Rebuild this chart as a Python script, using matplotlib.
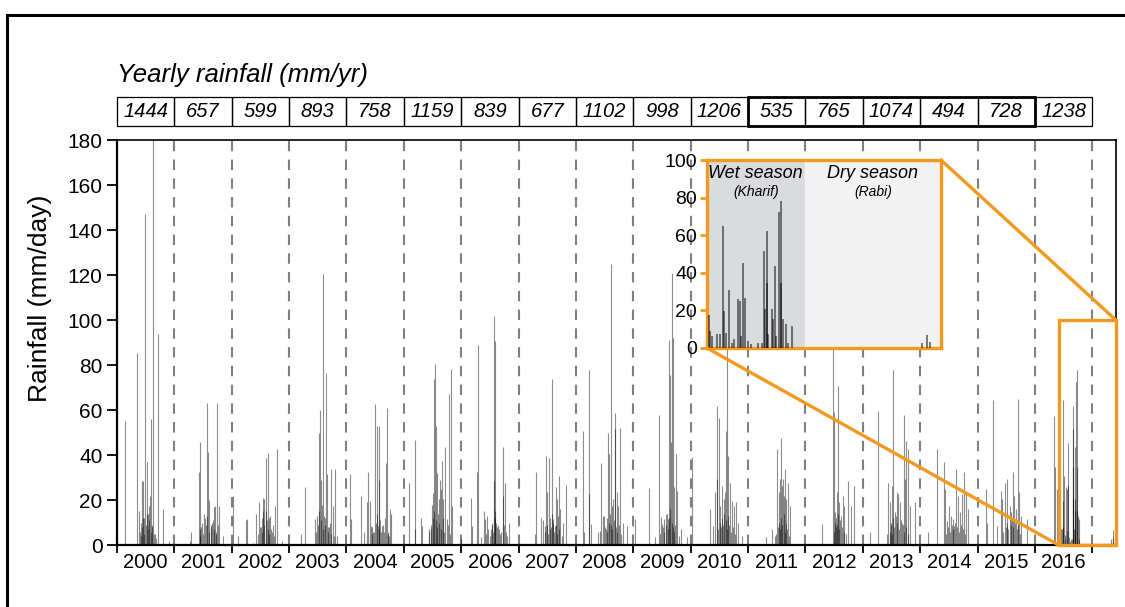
import numpy as np
import matplotlib
matplotlib.use("Agg")
import matplotlib.pyplot as plt
from matplotlib.patches import Rectangle, ConnectionPatch
from matplotlib.transforms import blended_transform_factory

plt.rcParams['font.family'] = ['Liberation Sans', 'DejaVu Sans']

# yearly totals (mm/yr)
years = list(range(2000, 2017))
yearly_totals = [1444, 657, 599, 893, 758, 1159, 839, 677, 1102, 998, 1206,
                 535, 765, 1074, 494, 728, 1238]
bold_years = [2011, 2012, 2013, 2014, 2015]

# daily rainfall events: day of year and mm/day, one list per year
spike_doy = [
    [53, 125, 142, 159, 168, 180, 193, 206, 220, 231, 244, 259, 291, 333, 150, 175, 200, 212, 226],
    [100, 106, 155, 161, 189, 206, 214, 223, 250, 261, 274, 282, 307, 170, 195, 230, 240, 268],
    [6, 40, 91, 98, 138, 155, 172, 197, 208, 220, 231, 244, 261, 278, 289, 318, 185, 215, 236, 252],
    [76, 104, 165, 180, 189, 197, 204, 218, 235, 240, 259, 269, 278, 291, 303, 210, 226, 248],
    [25, 28, 95, 112, 134, 138, 148, 155, 172, 184, 195, 201, 208, 210, 227, 240, 250, 257, 265, 280, 286],
    [32, 68, 72, 106, 115, 157, 170, 178, 187, 191, 199, 206, 212, 221, 229, 238, 244, 252, 265, 273, 289, 301, 308],
    [0, 64, 68, 102, 106, 127, 144, 153, 165, 172, 182, 199, 206, 208, 212, 223, 233, 240, 263, 269, 276, 284, 303],
    [102, 108, 144, 157, 166, 174, 178, 195, 201, 214, 221, 229, 235, 242, 250, 257, 265, 282, 303],
    [42, 51, 83, 85, 93, 142, 153, 163, 174, 180, 191, 206, 212, 221, 229, 238, 246, 252, 259, 267, 284, 301, 327],
    [13, 102, 138, 165, 174, 182, 195, 206, 216, 223, 229, 236, 240, 244, 250, 257, 271, 280, 301, 339],
    [11, 123, 140, 155, 165, 170, 180, 187, 197, 212, 219, 225, 233, 240, 250, 263, 276, 286, 303, 325],
    [112, 155, 170, 187, 195, 201, 208, 214, 223, 229, 238, 244, 255, 265],
    [106, 175, 180, 190, 199, 205, 217, 228, 241, 249, 274, 289, 310],
    [46, 95, 152, 163, 173, 180, 188, 195, 205, 216, 226, 237, 247, 260, 268, 277, 290, 300, 332],
    [49, 108, 150, 159, 171, 186, 197, 207, 218, 228, 239, 254, 266, 281, 294, 306],
    [53, 63, 97, 127, 148, 158, 173, 190, 205, 216, 224, 232, 243, 256, 264, 275, 317],
    [123, 127, 144],
]
spike_mm = [
    [55, 85.5, 15, 28.6, 28.6, 147, 37, 17.5, 56, 180, 5, 93.7, 16, 2, 10, 12, 14, 22, 9],
    [2, 5.6, 32.6, 46, 14, 63, 41.6, 20, 17, 17.5, 63, 17.5, 4, 8, 12, 9, 10, 6],
    [22, 4, 11, 11.5, 1, 14, 19, 21, 20.4, 38.5, 41, 13, 9, 17.5, 42.6, 2, 8, 15, 12, 7],
    [5, 26, 11.5, 13, 50, 60, 29, 120.6, 76.7, 31.5, 10, 33.7, 17.5, 33.7, 4, 18, 12, 8],
    [31.5, 11.5, 22, 6, 19, 32.6, 19.7, 8.6, 5.6, 62.6, 53, 8.6, 53, 29, 8.6, 5.6, 36.7, 61, 5.6, 16, 13.8],
    [27.8, 46.6, 7, 12, 8.6, 7, 7, 18, 23, 73.7, 80.4, 53, 32, 20.4, 29, 25, 37.4, 20.4, 43.4, 11.5, 67, 78.4, 17.5],
    [2.7, 21, 8.6, 32.6, 88.8, 3.4, 15, 11.5, 13, 7, 4, 10, 28.6, 102, 90.7, 10, 9, 7, 22, 43.8, 27.8, 5.6, 10],
    [5, 32.6, 12, 11, 8.6, 39.7, 23.4, 38.6, 7, 73.7, 11.5, 8.6, 26, 20.4, 13, 30.5, 16, 10, 26.6],
    [50.8, 5.6, 77.9, 22.6, 9.3, 5.6, 6.4, 36.4, 13, 13, 7, 50, 40.4, 124.8, 17.5, 20.4, 58.6, 51.5, 23.4, 17.5, 52.2, 10, 8.6],
    [11.5, 25.6, 3.4, 58, 12.3, 9.3, 11.5, 13.8, 13.8, 11.5, 91, 75.5, 46, 121, 92, 26, 40.4, 24, 7, 3.4],
    [39, 16, 8.6, 23.4, 29.3, 61.9, 56.7, 17.5, 26.3, 20.4, 23.4, 50.8, 105, 39.7, 27.8, 19.7, 17.5, 19, 10, 4],
    [3.4, 7, 4, 42.6, 23.4, 29.3, 47.8, 26.3, 29.3, 22, 33.7, 20.4, 27.8, 17.5],
    [9.3, 95, 59, 14.5, 23.4, 70.7, 19, 13, 22, 17.5, 28.6, 17.5, 26.3],
    [5.6, 59.6, 5, 27.8, 19, 10, 26.3, 78, 14.5, 23.4, 22.6, 19, 10, 57.7, 29.3, 46.3, 42.6, 17.5, 19],
    [5.6, 42.6, 37, 25, 10.8, 17.5, 13, 11.5, 8.6, 34, 22, 14.5, 22.6, 32.3, 23.4, 16],
    [25, 10, 64.4, 8.6, 24, 20.4, 27.8, 29.3, 17.5, 14.5, 32.3, 22, 16, 64.8, 23.4, 13, 11.5],
    [57.4, 34.5, 24.9],
]

# smaller monsoon days (dense dark base of each cluster)
small_doy = [
    [145, 152, 160, 165, 172, 185, 190, 198, 203, 215, 222, 236, 248],
    [160, 165, 176, 182, 200, 210, 218, 235, 245, 255, 265, 275],
    [165, 178, 190, 195, 200, 205, 222, 228, 240, 256, 270],
    [170, 185, 192, 200, 213, 222, 230, 245, 254, 264, 285],
    [160, 165, 178, 188, 192, 205, 215, 222, 233, 245, 262, 270],
    [162, 175, 183, 195, 202, 209, 216, 225, 234, 248, 258, 280, 295],
    [160, 190, 195, 203, 215, 218, 228, 245, 255, 272, 290],
    [170, 183, 188, 198, 205, 210, 218, 225, 238, 246, 260, 275],
    [185, 195, 200, 209, 215, 225, 233, 242, 256, 262, 275, 290],
    [170, 187, 198, 210, 220, 226, 232, 247, 253, 262, 266, 290],
    [175, 185, 192, 201, 206, 215, 222, 229, 236, 245, 255, 270, 280],
    [180, 190, 198, 205, 211, 218, 226, 233, 241, 250, 260],
    [183, 186, 193, 196, 202, 210, 214, 222, 235, 245, 260],
    [170, 178, 185, 192, 200, 210, 220, 232, 243, 255, 265, 272, 285],
    [165, 180, 190, 202, 212, 222, 233, 245, 260, 272, 288],
    [165, 180, 185, 195, 210, 220, 228, 238, 250, 260, 270],
    [],
]
small_mm = [
    [6, 4, 8, 12, 5, 9, 14, 7, 11, 6, 8, 5, 3],
    [4, 7, 10, 5, 9, 13, 6, 8, 11, 7, 5, 9],
    [5, 8, 12, 6, 15, 9, 11, 7, 5, 6, 4],
    [6, 9, 15, 11, 7, 13, 9, 6, 8, 5, 4],
    [5, 8, 6, 10, 14, 7, 11, 6, 9, 12, 5, 4],
    [6, 9, 12, 15, 11, 8, 14, 10, 7, 12, 6, 9, 5],
    [5, 7, 9, 6, 12, 15, 8, 5, 6, 9, 4],
    [6, 9, 5, 12, 8, 14, 10, 6, 9, 5, 7, 4],
    [8, 12, 6, 10, 14, 9, 7, 11, 8, 6, 9, 5],
    [5, 8, 6, 9, 7, 12, 16, 10, 8, 6, 9, 4],
    [7, 10, 8, 12, 9, 14, 11, 7, 13, 9, 6, 8, 5],
    [5, 8, 10, 7, 12, 9, 14, 6, 10, 7, 4],
    [6, 10, 8, 12, 9, 14, 7, 11, 8, 6, 5],
    [6, 9, 5, 12, 8, 13, 10, 7, 11, 9, 6, 8, 5],
    [5, 8, 6, 9, 7, 10, 8, 6, 9, 7, 5],
    [6, 8, 10, 7, 9, 12, 8, 10, 7, 9, 5],
    [],
]

# June 2016 - May 2017 (days since 1 June 2016), shown in the inset
season_day = [3, 5, 8, 15, 21, 25, 27, 29, 35, 39, 42, 49, 51, 53, 56, 59, 64, 69, 80, 86,
              89, 90, 93, 94, 96, 101, 103, 106, 107, 113, 115, 116, 119, 124, 127, 132,
              335, 344, 348]
season_mm = [17.8, 9, 6.4, 7.2, 7.2, 64.7, 19.6, 8, 30.7, 2.8, 4.6, 25.8, 25, 6.4, 45.2, 26.7, 3.7, 2, 2.8, 2.8,
             51.4, 20.5, 62, 34.6, 7.2, 20.5, 15.2, 43.5, 6.4, 72.6, 78, 34.6, 15.2, 13, 2.8, 11.7,
             2.8, 6.7, 3.2]


def dec_year(dates):
    d = np.asarray(dates, dtype='datetime64[D]')
    y = d.astype('datetime64[Y]')
    start = y.astype('datetime64[D]')
    end = (y + 1).astype('datetime64[D]')
    return y.astype(int) + 1970 + (d - start) / (end - start)


main_dates = np.concatenate([np.datetime64(f'{yr}-01-01') + np.array(a + b, dtype=int)
                             for yr, a, b in zip(years, spike_doy, small_doy)])
main_mm = np.concatenate([np.array(a + b, dtype=float) for a, b in zip(spike_mm, small_mm)])
season_start = np.datetime64('2016-06-01')
season_dates = season_start + np.array(season_day, dtype=int)
all_x = np.concatenate([dec_year(main_dates), dec_year(season_dates)])
all_mm = np.concatenate([main_mm, np.array(season_mm, dtype=float)])

x_start = dec_year(season_start)
x_end = dec_year(np.datetime64('2017-06-01'))
orange = '#F39A1E'

fig = plt.figure(figsize=(11.25, 6.07), dpi=100)
ax = fig.add_axes([0.104, 0.102, 0.888, 0.667])

ax.vlines(all_x, 0, all_mm, color='black', alpha=0.45, linewidth=0.8, zorder=3)
for yr in range(2001, 2018):
    ax.axvline(yr, color='#808080', linewidth=1.5, linestyle=(0, (5, 4)), zorder=1)

ax.set_xlim(2000, x_end)
ax.set_ylim(0, 180)
ax.set_yticks(range(0, 181, 20))
ax.set_xticks(range(2000, 2018))
ax.set_xticklabels([])
ax.set_xticks([y + 0.5 for y in years], minor=True)
ax.set_xticklabels([str(y) for y in years], minor=True, fontsize=14.5)
ax.tick_params(axis='x', which='major', direction='out', length=6, width=1.3)
ax.tick_params(axis='x', which='minor', length=0, pad=6)
ax.tick_params(axis='y', direction='out', length=7, width=1.3, labelsize=15)
ax.set_ylabel('Rainfall (mm/day)', fontsize=19)
ax.yaxis.set_label_coords(-0.065, 0.61)
for s in ax.spines.values():
    s.set_linewidth(1.2)
ax.spines['left'].set_linewidth(1.6)
ax.spines['bottom'].set_linewidth(1.6)

# zoom box on the main axis
ax.add_patch(Rectangle((x_start, 0), x_end - x_start, 100, fill=False, edgecolor=orange,
                       linewidth=2.4, clip_on=False, zorder=5))

# yearly rainfall table
tr = blended_transform_factory(ax.transData, ax.transAxes)
y0, y1 = 1.035, 1.106
for yr, tot in zip(years, yearly_totals):
    ax.add_patch(Rectangle((yr, y0), 1, y1 - y0, transform=tr, fill=False,
                           edgecolor='black', linewidth=0.9, clip_on=False))
    ax.text(yr + 0.5, (y0 + y1) / 2, str(tot), transform=tr, ha='center', va='center',
            fontsize=14.5, style='italic')
ax.add_patch(Rectangle((bold_years[0], y0), len(bold_years), y1 - y0, transform=tr, fill=False,
                       edgecolor='black', linewidth=2, clip_on=False))
ax.text(2000, 1.16, 'Yearly rainfall (mm/yr)', transform=tr, ha='left', va='center',
        fontsize=18.5, style='italic')

# inset: wet / dry season 2016-17
ins = fig.add_axes([0.6284, 0.4267, 0.208, 0.3097])
ins.axvspan(0, 153, color='#D9DBDE', zorder=0)
ins.axvspan(153, 365, color='#F2F2F2', zorder=0)
ins.vlines(season_day, 0, season_mm, color='black', alpha=0.5, linewidth=1.4, zorder=3)
ins.set_xlim(0, 365)
ins.set_ylim(0, 100)
ins.set_yticks(range(0, 101, 20))
ins.set_xticks([])
ins.tick_params(axis='y', direction='out', length=5, width=2, color=orange, labelsize=14, pad=2)
for s in ins.spines.values():
    s.set_color(orange)
    s.set_linewidth(2.4)
ins.text(76, 93, 'Wet season', ha='center', va='center', fontsize=13, style='italic')
ins.text(76, 83, '(Kharif)', ha='center', va='center', fontsize=10, style='italic')
ins.text(259, 93, 'Dry season', ha='center', va='center', fontsize=13, style='italic')
ins.text(259, 83, '(Rabi)', ha='center', va='center', fontsize=10, style='italic')

for xy_a, xy_b in [((0, 0), (x_start, 0)), ((365, 100), (x_end, 100))]:
    con = ConnectionPatch(xyA=xy_a, coordsA=ins.transData, xyB=xy_b, coordsB=ax.transData,
                          color=orange, linewidth=2.4, zorder=6)
    fig.add_artist(con)

# outer frame
fig.add_artist(Rectangle((7 / 1125, -0.05), 1.1, (607 - 15) / 607 + 0.05, transform=fig.transFigure,
                         fill=False, edgecolor='black', linewidth=2.2))

fig.savefig('out.png', dpi=100)
